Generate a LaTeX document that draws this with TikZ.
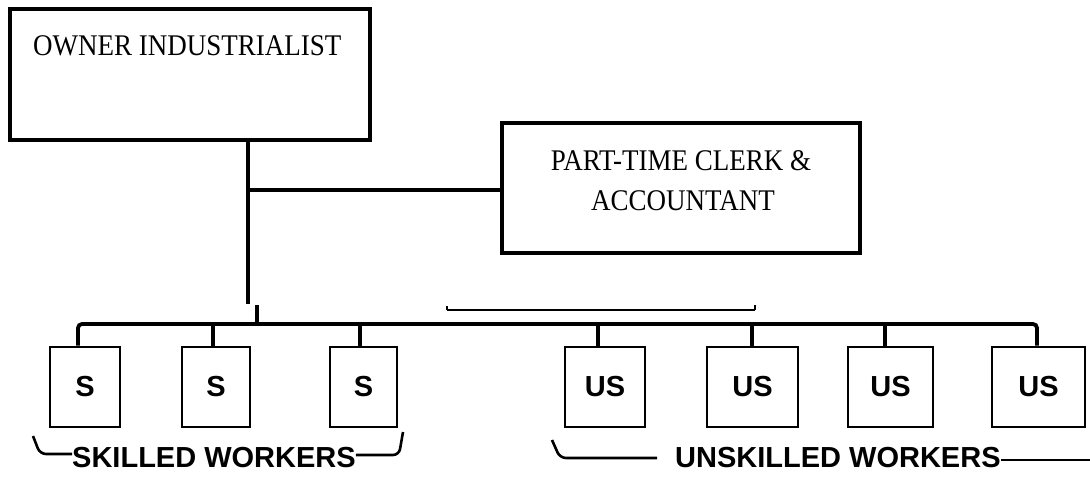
\documentclass[tikz,border=0pt]{standalone}
\usepackage{fontspec}
\setmainfont{Liberation Serif}
\newfontfamily\serifc[FakeStretch=0.9]{Liberation Serif}
\newfontfamily\sansw[UprightFont=*-Bold]{Liberation Sans}
\begin{document}
\begin{tikzpicture}[x=1pt,y=-1pt,
  bigbox/.style={draw=black,line width=3.5pt,inner sep=0pt},
  wbox/.style={draw=black,line width=2.6pt,inner sep=0pt,minimum height=80pt,
    font=\sansw\fontsize{29}{34}\selectfont},
  link/.style={line width=3.2pt,black},
  bus/.style={line width=3.8pt,black,rounded corners=4pt},
  brk/.style={line width=2.6pt,black,rounded corners=6pt},
  lab/.style={anchor=base west,inner sep=0pt,font=\sansw\fontsize{29}{34}\selectfont},
  stxt/.style={inner sep=0pt,font=\serifc\fontsize{30}{40}\selectfont,align=center}]
\useasboundingbox (0,0) rectangle (1090,491);
% top boxes
\node[bigbox,minimum width=360pt,minimum height=131pt] (own) at (190,74.5) {};
\node[stxt,anchor=base west] (owntxt) at (33,55) {OWNER INDUSTRIALIST};
\node[bigbox,minimum width=358pt,minimum height=130pt] (clerk) at (681,188) {};
\node[stxt,anchor=base] (cl1) at (681,170) {PART-TIME CLERK \&};
\node[stxt,anchor=base] (cl2) at (683,210) {ACCOUNTANT};
% worker boxes
\node[wbox,minimum width=70pt] (s1) at (85,387) {S};
\node[wbox,minimum width=68pt] (s2) at (216,387) {S};
\node[wbox,minimum width=67pt] (s3) at (363.5,387) {S};
\node[wbox,minimum width=80pt] (u1) at (605,387) {US};
\node[wbox,minimum width=91pt] (u2) at (752.5,387) {US};
\node[wbox,minimum width=85pt] (u3) at (890.5,387) {US};
\node[wbox,minimum width=93pt] (u4) at (1038.5,387) {US};
% connectors
\coordinate (vtop) at (248,140);
\coordinate (vbot) at (248,304);
\coordinate (jtop) at (257,305);
\coordinate (jbot) at (257,324);
\coordinate (vmid) at (248,190);
\draw[link] (vtop) -- (vbot);
\draw[link] (jtop) -- (jbot);
\draw[link] (vmid) -- (clerk.west |- vmid);
\coordinate (b1) at (78,324);
\coordinate (b2) at (1037,324);
\draw[bus] (s1.north -| b1) -- (b1) -- (b2) -- (u4.north -| b2);
\foreach \n/\x in {s2/213,s3/360,u1/598,u2/752,u3/885}{
  \draw[link] (\n.north -| \x,0) -- (\x,324);
}
\coordinate (t1) at (447,310);
\coordinate (t2) at (755,310);
\draw[line width=2.2pt,black] (t1) -- (t2);
\draw[line width=1.4pt] (t1) -- ++(0,-4);
\draw[line width=1.4pt] (t2) -- ++(0,-5);
% labels
\node[lab] (sk) at (72,467) {SKILLED WORKERS};
\node[lab] (usk) at (675,467) {UNSKILLED WORKERS};
\coordinate (skl) at (33,436);
\coordinate (skr) at (403,432);
\draw[brk] (skl) -- (40,454) -- (sk.west |- 0,454) ;
\draw[brk] (sk.east |- 0,455) -- (399,455) -- (skr);
\coordinate (ukl) at (552,440);
\coordinate (ukr) at (1090,460);
\draw[brk] (ukl) -- (560,458) -- (657,458);
\draw[line width=2.6pt] (usk.east |- 0,460) -- (ukr);
\end{tikzpicture}
\end{document}
